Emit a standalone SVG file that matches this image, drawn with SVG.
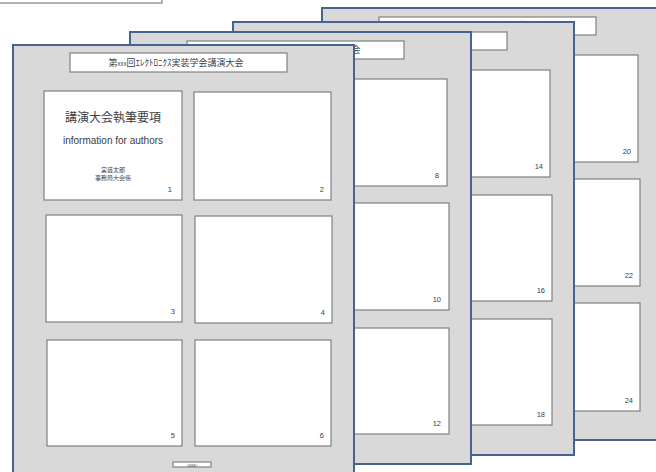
<svg xmlns="http://www.w3.org/2000/svg" width="656" height="472" viewBox="0 0 656 472">
  <style>
    .page { fill: #d9d9d9; stroke: #46648f; stroke-width: 2; }
    .slide { fill: #ffffff; stroke: #808080; stroke-width: 1.2; }
    .hdr { fill: #ffffff; stroke: #808080; stroke-width: 1.2; }
    .num { font-family: "Liberation Sans", Arial, sans-serif; font-size: 7.5px; fill: #404040; text-anchor: end; }
    .jp { font-family: "Noto Sans CJK JP", sans-serif; fill: #404040; text-anchor: middle; }
    .en { font-family: "Liberation Sans", Arial, sans-serif; fill: #404040; text-anchor: middle; }
  </style>
  <rect width="656" height="472" fill="#ffffff"/>

  <g id="corner-box">
    <rect x="-3" y="-10" width="165" height="13" class="hdr"/>
  </g>

  <g id="page-4" transform="translate(322,8)">
    <rect x="0" y="0" width="341" height="432" class="page"/>
    <rect x="57" y="9" width="217" height="18" class="hdr"/>
    <text x="163" y="21" class="jp" font-size="9">第<tspan font-size="6">xxx</tspan>回ｴﾚｸﾄﾛﾆｸｽ実装学会講演大会</text>
    <rect x="181" y="47" width="135" height="107" class="slide"/>
    <text x="309" y="146" class="num">20</text>
    <rect x="181" y="171" width="137" height="107" class="slide"/>
    <text x="311" y="270" class="num">22</text>
    <rect x="181" y="295" width="137" height="108" class="slide"/>
    <text x="311" y="395" class="num">24</text>
  </g>

  <g id="page-3" transform="translate(233,22)">
    <rect x="0" y="0" width="341" height="433" class="page"/>
    <rect x="57" y="10" width="217" height="18" class="hdr"/>
    <rect x="181" y="48" width="136" height="107" class="slide"/>
    <text x="310" y="147" class="num">14</text>
    <rect x="181" y="173" width="138" height="106" class="slide"/>
    <text x="312" y="271" class="num">16</text>
    <rect x="181" y="297" width="138" height="106" class="slide"/>
    <text x="312" y="395" class="num">18</text>
  </g>

  <g id="page-2" transform="translate(130,32)">
    <rect x="0" y="0" width="341" height="432" class="page"/>
    <rect x="57" y="9" width="217" height="18" class="hdr"/>
    <text x="163" y="21" class="jp" font-size="9">第<tspan font-size="6">xxx</tspan>回ｴﾚｸﾄﾛﾆｸｽ実装学会講演大会</text>
    <rect x="181" y="47" width="136" height="107" class="slide"/>
    <text x="309" y="146" class="num">8</text>
    <rect x="181" y="171" width="138" height="107" class="slide"/>
    <text x="311" y="270" class="num">10</text>
    <rect x="181" y="296" width="138" height="106" class="slide"/>
    <text x="311" y="394" class="num">12</text>
  </g>

  <g id="page-1" transform="translate(13,45)">
    <rect x="0" y="0" width="341" height="432" class="page"/>
    <rect x="57" y="8" width="217" height="19" class="hdr"/>
    <text x="163" y="21" class="jp" font-size="9">第<tspan font-size="6">xxx</tspan>回ｴﾚｸﾄﾛﾆｸｽ実装学会講演大会</text>

    <g id="slide-1">
      <rect x="31" y="46" width="138" height="109" class="slide"/>
      <text x="100" y="77" class="jp" font-size="12">講演大会執筆要項</text>
      <text x="100" y="99" class="en" font-size="10">information for authors</text>
      <text x="100" y="127" class="jp" font-size="6">実装太郎</text>
      <text x="100" y="135" class="jp" font-size="6">事務局大会係</text>
      <text x="159" y="147" class="num">1</text>
    </g>
    <g id="slide-2">
      <rect x="181" y="47" width="137" height="108" class="slide"/>
      <text x="311" y="147" class="num">2</text>
    </g>
    <g id="slide-3">
      <rect x="33" y="170" width="136" height="107" class="slide"/>
      <text x="162" y="269" class="num">3</text>
    </g>
    <g id="slide-4">
      <rect x="182" y="171" width="137" height="107" class="slide"/>
      <text x="312" y="270" class="num">4</text>
    </g>
    <g id="slide-5">
      <rect x="34" y="295" width="135" height="106" class="slide"/>
      <text x="162" y="393" class="num">5</text>
    </g>
    <g id="slide-6">
      <rect x="182" y="295" width="136" height="106" class="slide"/>
      <text x="311" y="393" class="num">6</text>
    </g>
    <g id="footer">
      <rect x="160" y="417" width="38" height="5" class="hdr" stroke-width="1"/>
      <text x="179" y="421.5" class="en" font-size="5">-xxx-</text>
    </g>
  </g>

  <g id="connectors"/>
</svg>
